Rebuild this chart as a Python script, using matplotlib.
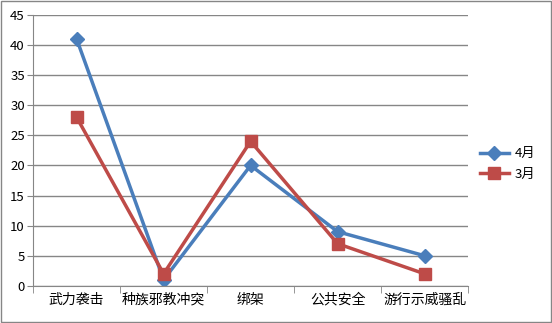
import matplotlib
matplotlib.use("Agg")
import matplotlib.pyplot as plt
from matplotlib.patches import Rectangle

plt.rcParams['font.family'] = ['Noto Sans CJK SC', 'DejaVu Sans']

categories = ["武力袭击", "种族邪教冲突", "绑架", "公共安全", "游行示威骚乱"]
apr = [41, 1, 20, 9, 5]
mar = [28, 2, 24, 7, 2]
yticks = list(range(0, 50, 5))

fig = plt.figure(figsize=(5.52, 3.23), dpi=100)
ax = fig.add_axes([0.060, 0.115, 0.788, 0.839])
x = list(range(len(categories)))
ax.plot(x, apr, color="#4A7EBB", lw=2.5, marker="D", ms=7, label="4月")
ax.plot(x, mar, color="#BE4B48", lw=2.5, marker="s", ms=8, label="3月")
ax.set_xlim(-0.5, len(categories) - 0.5)
ax.set_ylim(0, 45)
ax.set_yticks(yticks)
ax.set_yticklabels([str(v) for v in yticks], fontsize=9.5)
ax.set_xticks(x)
ax.set_xticklabels(categories, fontsize=10)
ax.tick_params(axis='x', length=0, pad=5)
ax.tick_params(axis='y', length=4, color="#868686", pad=2)
ax.set_xticks([i - 0.5 for i in range(len(categories) + 1)], minor=True)
ax.tick_params(axis='x', which='minor', length=5, color="#868686")
ax.grid(axis='y', color="#868686", lw=1)
ax.set_axisbelow(True)
for s in ['top', 'right']:
    ax.spines[s].set_visible(False)
for s in ['left', 'bottom']:
    ax.spines[s].set_color("#868686")
ax.legend(loc='center left', bbox_to_anchor=(1.0, 0.45), frameon=False, fontsize=9.5,
          handlelength=2.2, handletextpad=0.4, labelspacing=0.55)
fig.patches.append(Rectangle((0.001, 0.002), 0.997, 0.995, transform=fig.transFigure,
                             fill=False, edgecolor="#868686", lw=1))
fig.savefig("out.png", dpi=100)
